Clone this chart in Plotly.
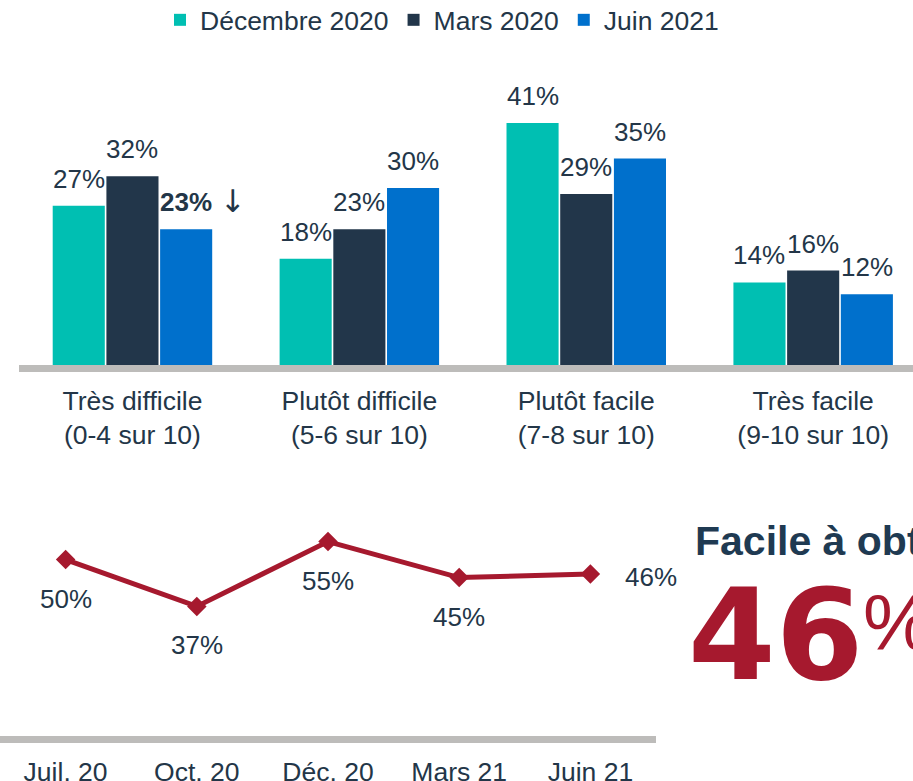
import plotly.graph_objects as go

# Bar panel: ease of obtaining, by wave
CATEGORIES = [
    "Très difficile<br>(0-4 sur 10)",
    "Plutôt difficile<br>(5-6 sur 10)",
    "Plutôt facile<br>(7-8 sur 10)",
    "Très facile<br>(9-10 sur 10)",
]
SERIES_NAMES = ["Décembre 2020", "Mars 2020", "Juin 2021"]
DEC_2020 = [27, 18, 41, 14]
MARS_2020 = [32, 23, 29, 16]
JUIN_2021 = [23, 30, 35, 12]

# Trend panel: share "facile à obtenir"
TREND_LABELS = ["Juil. 20", "Oct. 20", "Déc. 20", "Mars 21", "Juin 21"]
TREND_VALUES = [50, 37, 55, 45, 46]

HEADLINE = "Facile à obtenir"

FONT = "Liberation Sans, Arial, sans-serif"
TEXT_COLOR = "#233648"
SERIES_COLORS = ["#00BFB2", "#22364A", "#0070CC"]
RED = "#A6192E"
GREY = "#BDBCBA"

W, H = 913, 781
BARGAP = 0.29


def px_x(x):
    return x / W


def px_y(y):
    return (H - y) / H


fig = go.Figure()

series_values = [DEC_2020, MARS_2020, JUIN_2021]
for name, values, color in zip(SERIES_NAMES, series_values, SERIES_COLORS):
    fig.add_trace(go.Bar(
        x=CATEGORIES,
        y=values,
        name=name,
        marker=dict(color=color, line=dict(width=0)),
        xaxis="x",
        yaxis="y",
        cliponaxis=False,
    ))

fig.add_trace(go.Scatter(
    x=TREND_LABELS,
    y=TREND_VALUES,
    mode="lines+markers",
    line=dict(color=RED, width=5),
    marker=dict(symbol="diamond", size=15, color=RED),
    xaxis="x2",
    yaxis="y2",
    showlegend=False,
    cliponaxis=False,
))

annotations = []

# Value labels above bars
slot = (1 - BARGAP) / len(SERIES_NAMES)
for s_idx, values in enumerate(series_values):
    offset = (s_idx - 1) * slot
    for c_idx, v in enumerate(values):
        highlight = s_idx == 2 and c_idx == 0
        annotations.append(dict(
            x=c_idx + offset, y=v, xref="x", yref="y",
            text=f"<b>{v}%</b>" if highlight else f"{v}%",
            showarrow=False, yanchor="middle", yshift=27,
            font=dict(size=26, color=TEXT_COLOR),
        ))
# down arrow next to the highlighted value
annotations.append(dict(
    x=0 + slot, y=JUIN_2021[0], xref="x", yref="y",
    text="↓", showarrow=False, yanchor="middle", yshift=28, xshift=47,
    font=dict(size=31, color=TEXT_COLOR, family="DejaVu Sans, sans-serif"),
))

# Trend labels
for i, v in enumerate(TREND_VALUES):
    if i == len(TREND_VALUES) - 1:
        annotations.append(dict(
            x=i, y=v, xref="x2", yref="y2", text=f"{v}%",
            showarrow=False, xanchor="left", xshift=33, yshift=-3,
            font=dict(size=26, color=TEXT_COLOR),
        ))
    else:
        annotations.append(dict(
            x=i, y=v, xref="x2", yref="y2", text=f"{v}%",
            showarrow=False, yanchor="middle", yshift=-39,
            font=dict(size=26, color=TEXT_COLOR),
        ))

# Headline on the right
annotations.append(dict(
    x=px_x(693), y=px_y(541), xref="paper", yref="paper",
    text=f"<b>{HEADLINE}</b>", showarrow=False,
    xanchor="left", yanchor="middle",
    font=dict(size=41, color="#1F3A52", family=FONT),
))
annotations.append(dict(
    x=px_x(686), y=px_y(635), xref="paper", yref="paper",
    text=f"<b>{TREND_VALUES[-1]}</b>", showarrow=False,
    xanchor="left", yanchor="middle",
    font=dict(size=126, color=RED, family="DejaVu Sans, sans-serif"),
))
annotations.append(dict(
    x=px_x(861), y=px_y(623), xref="paper", yref="paper",
    text="%", showarrow=False,
    xanchor="left", yanchor="middle",
    font=dict(size=78, color=RED, family=FONT),
))

fig.update_layout(
    width=W,
    height=H,
    margin=dict(l=0, r=0, t=0, b=0, autoexpand=False),
    paper_bgcolor="white",
    plot_bgcolor="white",
    font=dict(family=FONT, size=26, color=TEXT_COLOR),
    barmode="group",
    bargap=BARGAP,
    bargroupgap=0.03,
    showlegend=True,
    legend=dict(
        orientation="h", x=px_x(442), y=1.005, xanchor="center", yanchor="top",
        font=dict(size=26.5, color=TEXT_COLOR), bgcolor="rgba(0,0,0,0)",
        itemwidth=30,
    ),
    xaxis=dict(
        domain=[px_x(19), 1.0], range=[-0.5, 3.44], type="category",
        automargin=False,
        showgrid=False, zeroline=False,
        showline=True, linecolor=GREY, linewidth=7,
        ticks="outside", ticklen=6, tickcolor="rgba(0,0,0,0)",
        tickfont=dict(size=26.5, color=TEXT_COLOR),
        fixedrange=True,
    ),
    yaxis=dict(
        domain=[px_y(365), px_y(70)], range=[0, 50],
        automargin=False, visible=False, fixedrange=True,
    ),
    xaxis2=dict(
        domain=[0, px_x(656)], range=[-0.5, 4.5], type="category",
        anchor="y2", automargin=False,
        showgrid=False, zeroline=False,
        showline=True, linecolor=GREY, linewidth=7,
        ticks="outside", ticklen=6, tickcolor="rgba(0,0,0,0)",
        tickfont=dict(size=26.5, color=TEXT_COLOR),
        fixedrange=True,
    ),
    yaxis2=dict(
        domain=[px_y(736), px_y(520)], range=[1, 61],
        anchor="x2", automargin=False, visible=False, fixedrange=True,
    ),
    annotations=annotations,
)

# drop the browser's default body margin so the figure sits at the window origin
fig.write_html(
    "out.html",
    config={"displayModeBar": False},
    post_script="document.body.style.margin = '0';",
)
